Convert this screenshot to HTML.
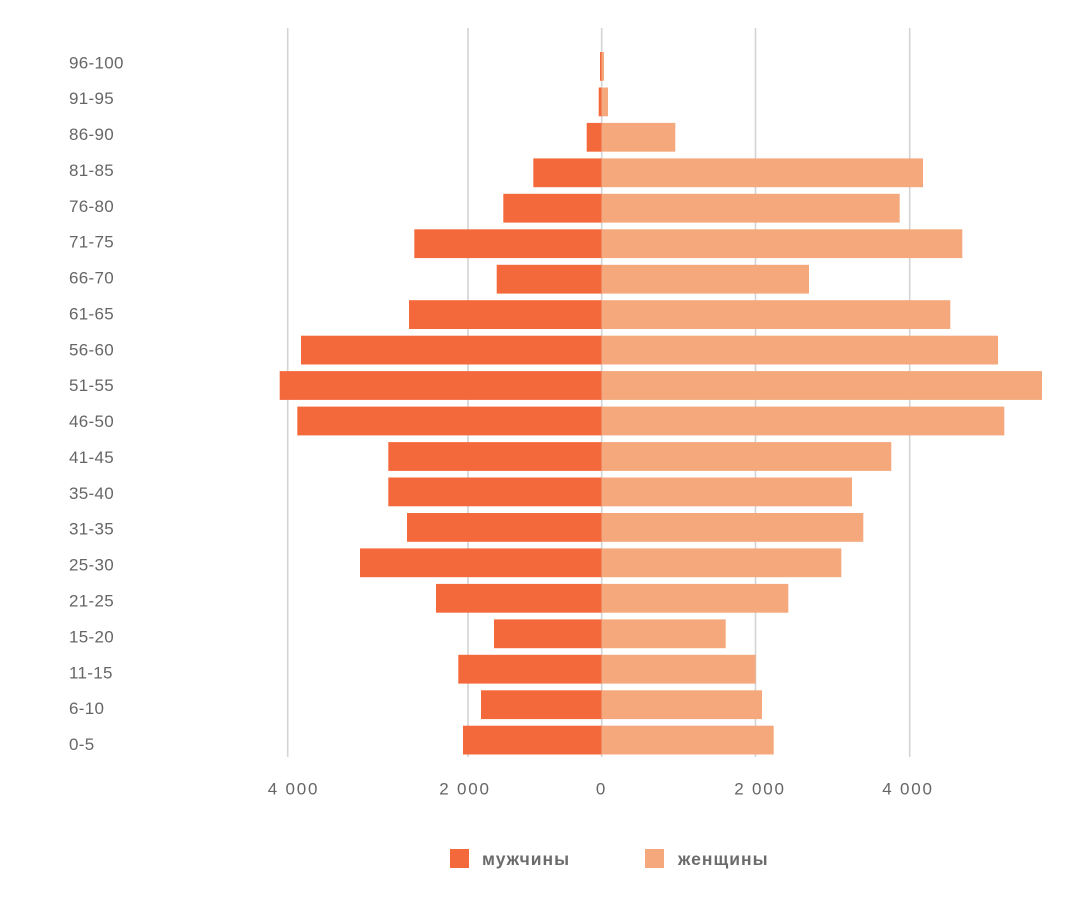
<!DOCTYPE html>
<html><head><meta charset="utf-8"><style>
html,body{margin:0;padding:0;background:#fff;}
svg{display:block;}
text{font-family:"Liberation Sans",sans-serif;}
</style></head><body>
<svg width="1066" height="900" viewBox="0 0 1066 900" xmlns="http://www.w3.org/2000/svg">
<rect width="1066" height="900" fill="#fff"/>
<g stroke="#d4d4d4" stroke-width="1.6">
<line x1="287.7" y1="28" x2="287.7" y2="757"/>
<line x1="468" y1="28" x2="468" y2="757"/>
<line x1="601.7" y1="28" x2="601.7" y2="757"/>
<line x1="755.5" y1="28" x2="755.5" y2="757"/>
<line x1="909.7" y1="28" x2="909.7" y2="757"/>
</g>
<g fill="#f4693c">
<rect x="600" y="52" width="1.7" height="28.8"/>
<rect x="598.7" y="87.5" width="3" height="28.8"/>
<rect x="586.7" y="122.9" width="15" height="28.8"/>
<rect x="533.3" y="158.4" width="68.4" height="28.8"/>
<rect x="503.3" y="193.8" width="98.4" height="28.8"/>
<rect x="414.3" y="229.3" width="187.4" height="28.8"/>
<rect x="496.7" y="264.8" width="105" height="28.8"/>
<rect x="409" y="300.2" width="192.7" height="28.8"/>
<rect x="301" y="335.7" width="300.7" height="28.8"/>
<rect x="279.7" y="371.1" width="322" height="28.8"/>
<rect x="297.3" y="406.6" width="304.4" height="28.8"/>
<rect x="388.3" y="442.1" width="213.4" height="28.8"/>
<rect x="388.3" y="477.5" width="213.4" height="28.8"/>
<rect x="407" y="513" width="194.7" height="28.8"/>
<rect x="360" y="548.4" width="241.7" height="28.8"/>
<rect x="436" y="583.9" width="165.7" height="28.8"/>
<rect x="494" y="619.4" width="107.7" height="28.8"/>
<rect x="458.3" y="654.8" width="143.4" height="28.8"/>
<rect x="481" y="690.3" width="120.7" height="28.8"/>
<rect x="463" y="725.7" width="138.7" height="28.8"/>
</g>
<g fill="#f4a87c">
<rect x="601.7" y="52" width="2.3" height="28.8"/>
<rect x="601.7" y="87.5" width="6.3" height="28.8"/>
<rect x="601.7" y="122.9" width="73.6" height="28.8"/>
<rect x="601.7" y="158.4" width="321.3" height="28.8"/>
<rect x="601.7" y="193.8" width="298" height="28.8"/>
<rect x="601.7" y="229.3" width="360.6" height="28.8"/>
<rect x="601.7" y="264.8" width="207.3" height="28.8"/>
<rect x="601.7" y="300.2" width="348.6" height="28.8"/>
<rect x="601.7" y="335.7" width="396.3" height="28.8"/>
<rect x="601.7" y="371.1" width="440.3" height="28.8"/>
<rect x="601.7" y="406.6" width="402.6" height="28.8"/>
<rect x="601.7" y="442.1" width="289.6" height="28.8"/>
<rect x="601.7" y="477.5" width="250.3" height="28.8"/>
<rect x="601.7" y="513" width="261.6" height="28.8"/>
<rect x="601.7" y="548.4" width="239.6" height="28.8"/>
<rect x="601.7" y="583.9" width="186.6" height="28.8"/>
<rect x="601.7" y="619.4" width="124" height="28.8"/>
<rect x="601.7" y="654.8" width="154" height="28.8"/>
<rect x="601.7" y="690.3" width="160.3" height="28.8"/>
<rect x="601.7" y="725.7" width="172" height="28.8"/>
</g>
<g fill="#666" font-size="17" letter-spacing="0.3">
<text x="69" y="68.3">96-100</text>
<text x="69" y="104.2">91-95</text>
<text x="69" y="140">86-90</text>
<text x="69" y="175.9">81-85</text>
<text x="69" y="211.8">76-80</text>
<text x="69" y="247.7">71-75</text>
<text x="69" y="283.6">66-70</text>
<text x="69" y="319.5">61-65</text>
<text x="69" y="355.3">56-60</text>
<text x="69" y="391.2">51-55</text>
<text x="69" y="427.1">46-50</text>
<text x="69" y="463">41-45</text>
<text x="69" y="498.9">35-40</text>
<text x="69" y="534.7">31-35</text>
<text x="69" y="570.6">25-30</text>
<text x="69" y="606.5">21-25</text>
<text x="69" y="642.4">15-20</text>
<text x="69" y="678.3">11-15</text>
<text x="69" y="714.1">6-10</text>
<text x="69" y="750">0-5</text>
</g>
<g fill="#666" font-size="17" text-anchor="middle" letter-spacing="1.8">
<text x="293.5" y="794.3">4 000</text>
<text x="465" y="794.3">2 000</text>
<text x="601.5" y="794.3">0</text>
<text x="760" y="794.3">2 000</text>
<text x="908" y="794.3">4 000</text>
</g>
<rect x="450" y="849" width="19" height="19" fill="#f4693c"/>
<rect x="645" y="849" width="19" height="19" fill="#f4a87c"/>
<g fill="#6b6b6b" font-size="17.5" font-weight="bold" letter-spacing="1">
<text x="482" y="865">мужчины</text>
<text x="678" y="865">женщины</text>
</g>
</svg>
</body></html>
